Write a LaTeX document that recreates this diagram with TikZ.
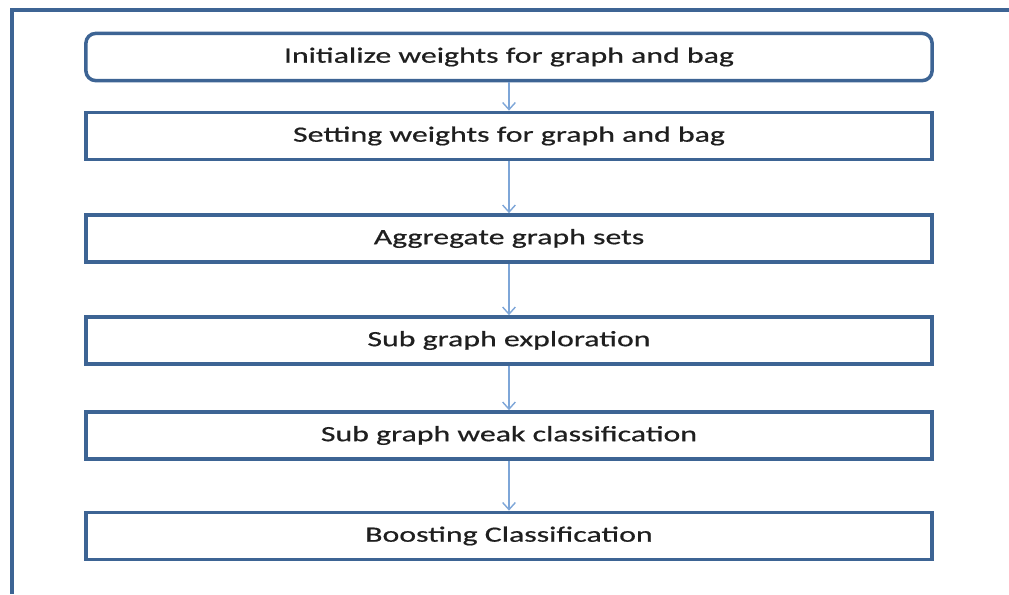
\documentclass[tikz,border=0pt]{standalone}
\usepackage{fontspec}
\setmainfont{Carlito}
\newfontfamily\stepfont[FakeStretch=1.46,FakeBold=0.6]{Carlito}
\usepackage{xcolor}
\usetikzlibrary{arrows.meta,positioning}

\definecolor{boxblue}{HTML}{3D6494}
\definecolor{flowblue}{HTML}{7EA6D8}

\begin{document}
\begin{tikzpicture}[
  x=0.025cm,y=-0.025cm,
  stepbox/.style={draw=boxblue,line width=2.5pt,fill=white,
    minimum width=21.15cm,minimum height=1.18cm,inner sep=0pt,
    font=\stepfont\fontsize{15.5}{19}\selectfont,text=black!88},
  startbox/.style={stepbox,rounded corners=7pt},
  flow/.style={draw=flowblue,line width=1pt,-{Straight Barb[length=5pt,width=9pt]}}
]

\useasboundingbox (0,0) rectangle (1009,594);

% outer frame, open on the right and bottom
\coordinate (frameTop) at (1009,10);
\coordinate (frameCorner) at (12,10);
\coordinate (frameBottom) at (12,594);
\draw[boxblue,line width=2.5pt] (frameTop) -- (frameCorner) -- (frameBottom);

\def\xmid{509}

\node[startbox] (init)   at (\xmid,57)    {Initialize weights for graph and bag};
\node[stepbox]  (setw)   at (\xmid,136)   {Setting weights for graph and bag};
\node[stepbox]  (aggr)   at (\xmid,238.5) {Aggregate graph sets};
\node[stepbox]  (explore) at (\xmid,340.5) {Sub graph exploration};
\node[stepbox]  (weak)   at (\xmid,435.5) {Sub graph weak classification};
\node[stepbox]  (boost)  at (\xmid,536)   {Boosting Classification};

\draw[flow] (init) -- (setw);
\draw[flow] (setw) -- (aggr);
\draw[flow] (aggr) -- (explore);
\draw[flow] (explore) -- (weak);
\draw[flow] (weak) -- (boost);

\end{tikzpicture}
\end{document}
